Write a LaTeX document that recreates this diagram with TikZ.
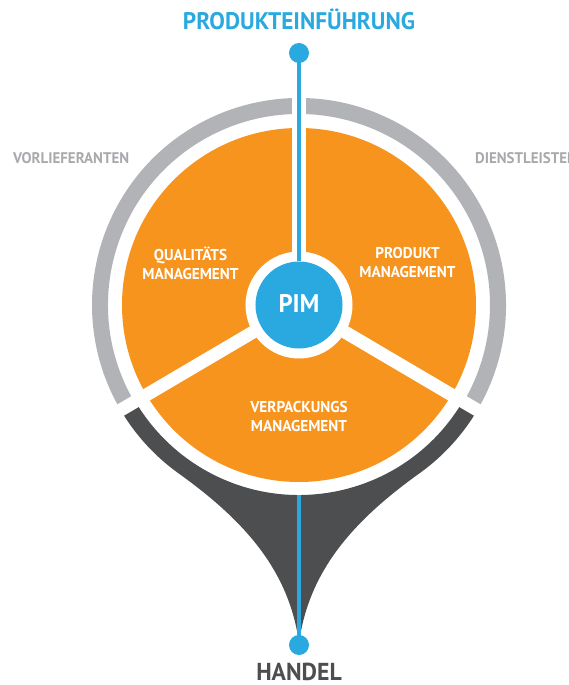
\documentclass[tikz,border=0pt]{standalone}
\usepackage{fontspec}
\setmainfont{PT Sans}
\newfontfamily\cf[FakeStretch=0.97]{PT Sans}
\definecolor{pimblue}{HTML}{29A9E0}
\definecolor{orng}{HTML}{F7941E}
\definecolor{ringgray}{HTML}{B1B3B6}
\definecolor{darkc}{HTML}{4D4E50}
\definecolor{labgray}{HTML}{A7A9AC}
\tikzset{
  lbl/.style={inner sep=0pt, font=\cf\bfseries},
  seglbl/.style={lbl, text=white, align=center, font=\cf\bfseries\fontsize{15.7}{19}\selectfont},
  divider/.style={white, line width=13pt},
  blueline/.style={pimblue, line width=4.5pt},
}
\begin{document}
\begin{tikzpicture}[x=1pt,y=1pt]
\useasboundingbox (-299,-380) rectangle (270,305);
% gray outer ring
\fill[ringgray] (-30:207) arc[start angle=-30,end angle=210,radius=207]
  -- (210:191) arc[start angle=210,end angle=-30,radius=191] -- cycle;
% dark ring + funnel
\fill[darkc] (210:190) -- (210:207) arc[start angle=210,end angle=234,radius=207]
  .. controls (-55,-215) and (-10,-265) .. (0,-338)
  .. controls (10,-265) and (55,-215) .. (306:207)
  arc[start angle=306,end angle=330,radius=207]
  -- (330:190) arc[start angle=330,end angle=210,radius=190] -- cycle;
% orange disk
\fill[orng] (0,0) circle[radius=177];
% dividers
\coordinate (c) at (0,0);
\coordinate (d1) at (90:216);
\coordinate (d2) at (210.5:216);
\coordinate (d3) at (329.5:216);
\draw[divider, line width=14pt] (c) -- (d1);
\draw[divider] (c) -- (d2);
\draw[divider] (c) -- (d3);
% PIM
\fill[white] (0,0) circle[radius=53.5];
\node[circle, fill=pimblue, minimum size=87pt, inner sep=0pt] (pim) at (0,0) {};
\node[lbl, text=white, font=\cf\bfseries\fontsize{25.5}{25.5}\selectfont, anchor=base] (pimt) at (0,-8) {PIM};
% top connector
\node[circle, fill=pimblue, minimum size=20pt, inner sep=0pt] (topdot) at (0,252) {};
\draw[blueline] (pim.north) -- (topdot.center);
% bottom connector
\coordinate (bstart) at (0,-190);
\node[circle, fill=pimblue, minimum size=20pt, inner sep=0pt] (botdot) at (0,-340) {};
\draw[blueline] (bstart) -- (botdot.center);
% labels
\node[lbl, text=pimblue, font=\cf\bfseries\fontsize{24}{24}\selectfont, anchor=base] (top) at (0,275) {PRODUKTEINFÜHRUNG};
\node[lbl, text=darkc, font=\cf\bfseries\fontsize{24.5}{24.5}\selectfont, anchor=base] (handel) at (0,-375) {HANDEL};
\node[lbl, text=labgray, font=\cf\bfseries\fontsize{15.4}{15.4}\selectfont, anchor=base west] (vor) at (-286,141) {VORLIEFERANTEN};
\node[lbl, text=labgray, font=\cf\bfseries\fontsize{15.4}{15.4}\selectfont, anchor=base west] (dienst) at (176,141) {DIENSTLEISTER};
\node[seglbl] (qual) at (-108.5,42) {QUALITÄTS\\MANAGEMENT};
\node[seglbl] (prod) at (108.5,42) {PRODUKT\\MANAGEMENT};
\node[seglbl] (verp) at (0,-112) {VERPACKUNGS\\MANAGEMENT};
\end{tikzpicture}
\end{document}
